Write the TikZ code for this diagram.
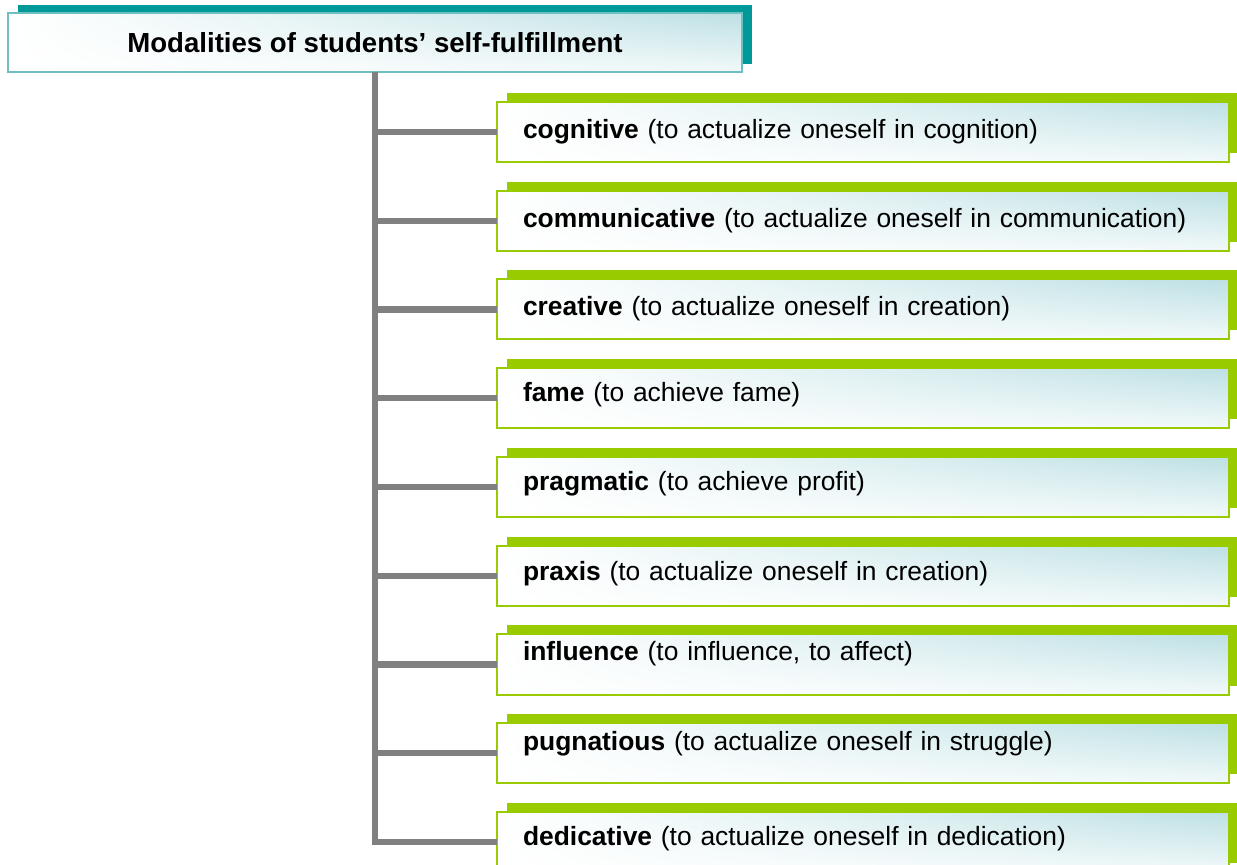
\documentclass[tikz,border=0pt]{standalone}
\usepackage{fontspec}
\setmainfont{Liberation Sans}
\usetikzlibrary{positioning,shadows,shadings}

\definecolor{leafgreen}{RGB}{153,204,0}
\definecolor{deepteal}{RGB}{0,153,153}
\definecolor{paleteal}{RGB}{110,192,192}
\definecolor{icetint}{RGB}{189,224,228}
\definecolor{trunkgray}{RGB}{128,128,128}

\tikzset{
  headbox/.style={rectangle, draw=paleteal, line width=0.8pt, minimum width=367pt, minimum height=29.5pt,
    outer sep=0pt, upper left=white, upper right=icetint, lower left=white, lower right=icetint!20,
    general shadow={fill=deepteal, shadow xshift=5pt, shadow yshift=4pt},
    font=\bfseries\fontsize{13.8}{16}\selectfont},
  modbox/.style={rectangle, draw=leafgreen, line width=1pt, minimum width=366pt, minimum height=30pt,
    text width=340pt, inner xsep=13pt, outer sep=0pt, align=left, text height=9.5pt, text depth=3pt,
    upper left=white, upper right=icetint, lower left=white, lower right=icetint!20,
    general shadow={fill=leafgreen, shadow xshift=4.75pt, shadow yshift=4.5pt},
    font=\fontsize{13.2}{16}\selectfont},
  branch/.style={draw=trunkgray, line width=3.2pt}
}

\begin{document}
\begin{tikzpicture}[x=0.5pt, y=-0.5pt, node distance=14.375pt]
\useasboundingbox (0,0) rectangle (1237,865);

\node[headbox] (title) at (375,42.5) {Modalities of students’ self-fulfillment};

\node[modbox] (cog) at (863,132) {\textbf{cognitive} (to actualize oneself in cognition)};
\node[modbox, below=of cog] (com) {\textbf{communicative} (to actualize oneself in communication)};
\node[modbox, below=of com] (cre) {\textbf{creative} (to actualize oneself in creation)};
\node[modbox, text depth=6pt, below=of cre] (fam) {\textbf{fame} (to achieve fame)};
\node[modbox, text depth=6pt, below=of fam] (pra) {\textbf{pragmatic} (to achieve profit)};
\node[modbox, text depth=5pt, below=of pra] (prx) {\textbf{praxis} (to actualize oneself in creation)};
\node[modbox, text depth=13pt, below=of prx] (inf) {\textbf{influence} (to influence, to affect)};
\node[modbox, text depth=12pt, below=of inf] (pug) {\textbf{pugnatious} (to actualize oneself in struggle)};
\node[modbox, text depth=6pt, below=of pug] (ded) {\textbf{dedicative} (to actualize oneself in dedication)};

% trunk and branches
\draw[branch] (title.south) |- (ded.west);
\foreach \m in {cog,com,cre,fam,pra,prx,inf,pug}
  \draw[branch] (title.south |- \m.west) -- (\m.west);
\end{tikzpicture}
\end{document}
